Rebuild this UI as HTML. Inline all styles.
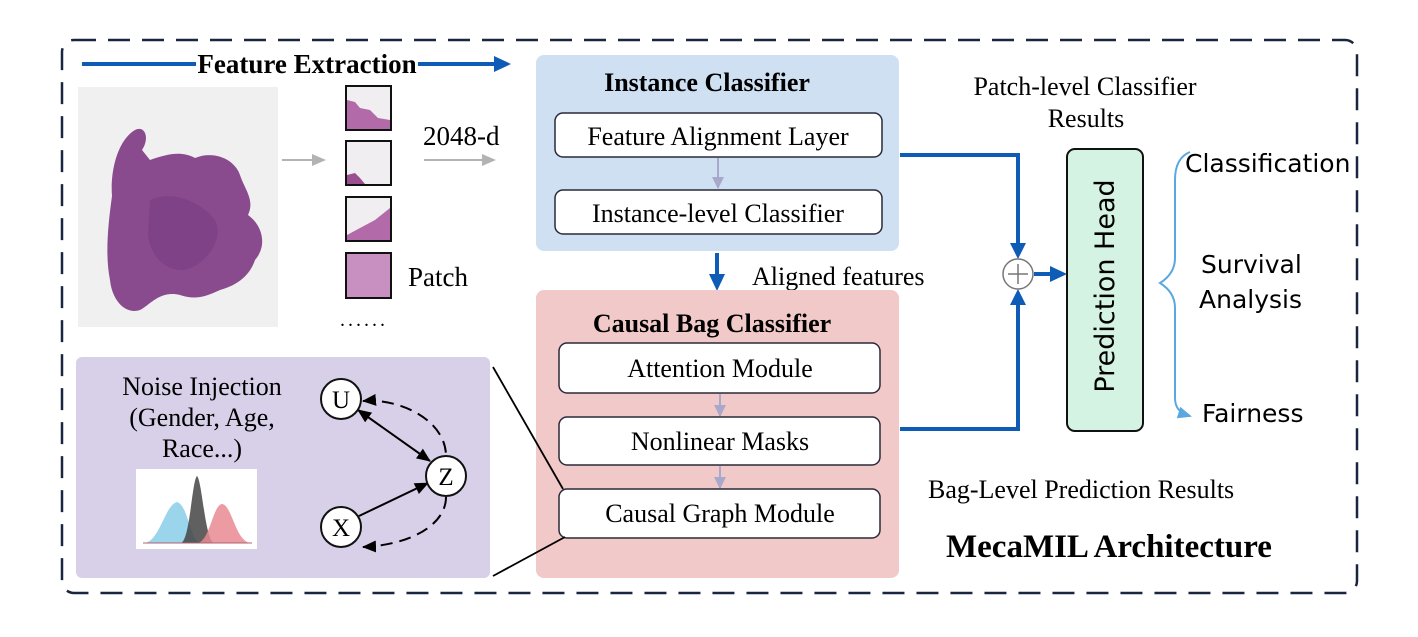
<!DOCTYPE html>
<html><head><meta charset="utf-8"><style>
html,body{margin:0;padding:0;background:#fff;}
svg{display:block;}
.s{font-family:"Liberation Serif",serif;}
.a{font-family:"DejaVu Sans","Liberation Sans",sans-serif;}
</style></head><body>
<svg width="1418" height="637" viewBox="0 0 1418 637" xmlns="http://www.w3.org/2000/svg">
<defs>
<marker id="gh" markerWidth="14" markerHeight="14" refX="12" refY="7" orient="auto" markerUnits="userSpaceOnUse"><path d="M0,1 L14,7 L0,13 z" fill="#b3b3b3"/></marker>
<marker id="ph" markerWidth="12" markerHeight="12" refX="11" refY="6" orient="auto" markerUnits="userSpaceOnUse"><path d="M0,0 L12,6 L0,12 z" fill="#a8a8cc"/></marker>
<marker id="kh" markerWidth="14" markerHeight="12" refX="13" refY="6" orient="auto" markerUnits="userSpaceOnUse"><path d="M0,0 L14,6 L0,12 z" fill="#000"/></marker>
<marker id="ks" markerWidth="14" markerHeight="12" refX="1" refY="6" orient="auto" markerUnits="userSpaceOnUse"><path d="M14,0 L0,6 L14,12 z" fill="#000"/></marker>
<marker id="lh" markerWidth="14" markerHeight="12" refX="12" refY="6" orient="auto" markerUnits="userSpaceOnUse"><path d="M0,0 L14,6 L0,12 z" fill="#5aa8e0"/></marker>
</defs>
<rect x="62" y="40" width="1295" height="553" rx="12" fill="none" stroke="#1a2540" stroke-width="2.5" stroke-dasharray="22,12"/>

<line x1="82" y1="64" x2="196" y2="64" stroke="#0e5cb5" stroke-width="4"/>
<line x1="418" y1="64" x2="496" y2="64" stroke="#0e5cb5" stroke-width="4"/>
<polygon points="494,56 511,64 494,72" fill="#0e5cb5"/>
<text x="307" y="73" class="s" font-size="27" font-weight="bold" text-anchor="middle">Feature Extraction</text>

<rect x="78" y="87" width="200" height="240" fill="#f0f0f1"/>
<path d="M112,196 C110,170 118,140 135,130 C145,125 150,138 142,150 L150,160 C165,155 180,150 195,158 C215,150 235,160 240,175 C245,190 255,200 248,215 C262,225 268,245 255,260 C250,275 238,285 220,290 C205,297 195,300 180,295 C160,290 150,305 140,310 C125,315 112,300 110,280 C105,255 108,225 112,196 Z" fill="#8a4a8e"/>
<path d="M150,200 C170,190 200,200 215,220 C225,240 205,265 185,270 C165,272 150,255 148,235 Z" fill="#7a3d80" opacity="0.6"/>

<line x1="282" y1="160" x2="324" y2="160" stroke="#b3b3b3" stroke-width="2" marker-end="url(#gh)"/>
<g stroke="#111" stroke-width="2">
<rect x="346" y="86" width="45" height="44" fill="#f1eef1"/>
<rect x="346" y="141" width="45" height="44" fill="#f1eef1"/>
<rect x="346" y="197" width="45" height="44" fill="#f1eef1"/>
<rect x="346" y="253" width="45" height="45" fill="#c890c0"/>
</g>
<path d="M347,100 L355,102 L360,108 L370,110 L378,118 L390,120 L390,129 L347,129Z" fill="#b26aa8"/>
<path d="M347,175 L355,173 L360,178 L365,184 L347,184Z" fill="#9a5090"/>
<path d="M347,235 L360,228 L375,220 L385,212 L390,208 L390,240 L347,240Z" fill="#b26aa8"/>
<text x="340" y="326" class="s" font-size="20" letter-spacing="3">......</text>
<text x="423" y="145" class="s" font-size="27">2048-d</text>
<line x1="424" y1="160" x2="494" y2="160" stroke="#b3b3b3" stroke-width="2" marker-end="url(#gh)"/>
<text x="408" y="286" class="s" font-size="27">Patch</text>

<rect x="536" y="55" width="363" height="196" rx="8" fill="#cfe0f2"/>
<text x="707" y="91" class="s" font-size="26" font-weight="bold" text-anchor="middle">Instance Classifier</text>
<rect x="555" y="113" width="327" height="44" rx="8" fill="#fff" stroke="#2a2a3a" stroke-width="1.5"/>
<text x="718" y="145" class="s" font-size="26" text-anchor="middle">Feature Alignment Layer</text>
<line x1="718" y1="158" x2="718" y2="188" stroke="#a8a8cc" stroke-width="2" marker-end="url(#ph)"/>
<rect x="555" y="190" width="327" height="44" rx="8" fill="#fff" stroke="#2a2a3a" stroke-width="1.5"/>
<text x="718" y="222" class="s" font-size="26" text-anchor="middle">Instance-level Classifier</text>

<line x1="717" y1="253" x2="717" y2="276" stroke="#0e5cb5" stroke-width="4"/>
<polygon points="709,274 725,274 717,291" fill="#0e5cb5"/>
<text x="752" y="285" class="s" font-size="26">Aligned features</text>

<rect x="536" y="290" width="363" height="288" rx="8" fill="#f2c9c9"/>
<text x="712" y="332" class="s" font-size="26" font-weight="bold" text-anchor="middle">Causal Bag Classifier</text>
<rect x="559" y="343" width="321" height="50" rx="8" fill="#fff" stroke="#2a2a3a" stroke-width="1.5"/>
<text x="720" y="377" class="s" font-size="26" text-anchor="middle">Attention Module</text>
<line x1="720" y1="394" x2="720" y2="416" stroke="#a8a8cc" stroke-width="2" marker-end="url(#ph)"/>
<rect x="559" y="417" width="321" height="48" rx="8" fill="#fff" stroke="#2a2a3a" stroke-width="1.5"/>
<text x="720" y="450" class="s" font-size="26" text-anchor="middle">Nonlinear Masks</text>
<line x1="720" y1="466" x2="720" y2="488" stroke="#a8a8cc" stroke-width="2" marker-end="url(#ph)"/>
<rect x="559" y="489" width="321" height="49" rx="8" fill="#fff" stroke="#2a2a3a" stroke-width="1.5"/>
<text x="720" y="522" class="s" font-size="26" text-anchor="middle">Causal Graph Module</text>

<polyline points="900,155 1018,155 1018,245" fill="none" stroke="#0e5cb5" stroke-width="4"/>
<polygon points="1010,243 1026,243 1018,259" fill="#0e5cb5"/>
<polyline points="900,429 1018,429 1018,303" fill="none" stroke="#0e5cb5" stroke-width="4"/>
<polygon points="1010,305 1026,305 1018,289" fill="#0e5cb5"/>
<circle cx="1018" cy="274" r="15" fill="#fff" stroke="#777" stroke-width="1.5"/>
<line x1="1008" y1="274" x2="1028" y2="274" stroke="#777" stroke-width="1.5"/>
<line x1="1018" y1="264" x2="1018" y2="284" stroke="#777" stroke-width="1.5"/>
<line x1="1034" y1="274" x2="1052" y2="274" stroke="#0e5cb5" stroke-width="4"/>
<polygon points="1050,266 1067,274 1050,282" fill="#0e5cb5"/>

<text x="1085" y="95" class="s" font-size="26" text-anchor="middle">Patch-level Classifier</text>
<text x="1086" y="127" class="s" font-size="26" text-anchor="middle">Results</text>

<rect x="1067" y="149" width="76" height="282" rx="8" fill="#d4f3e3" stroke="#111" stroke-width="2"/>
<text transform="translate(1114,286) rotate(-90)" class="a" font-size="27" text-anchor="middle">Prediction Head</text>

<path d="M1190,152 C1180,156 1175,165 1175,180 L1175,258 C1175,270 1168,278 1160,283 C1168,288 1175,296 1175,308 L1175,398 C1175,408 1180,413 1190,416" fill="none" stroke="#5aa8e0" stroke-width="2" marker-end="url(#lh)"/>
<text x="1185" y="172" class="a" font-size="25">Classification</text>
<text x="1201" y="273" class="a" font-size="25">Survival</text>
<text x="1199" y="308" class="a" font-size="25">Analysis</text>
<text x="1202" y="422" class="a" font-size="25">Fairness</text>

<text x="928" y="498" class="s" font-size="26">Bag-Level Prediction Results</text>
<text x="946" y="557" class="s" font-size="33" font-weight="bold">MecaMIL Architecture</text>

<rect x="76" y="357" width="414" height="221" rx="6" fill="#d7d0e8"/>
<text x="202" y="395" class="s" font-size="26" text-anchor="middle">Noise Injection</text>
<text x="202" y="426" class="s" font-size="26" text-anchor="middle">(Gender, Age,</text>
<text x="202" y="457" class="s" font-size="26" text-anchor="middle">Race...)</text>
<rect x="136" y="469" width="121" height="80" fill="#fff"/>
<path d="M145,543 C160,540 165,505 177,502 C188,505 190,540 200,543Z" fill="#8fd0ea" opacity="0.9"/>
<path d="M181,543 C190,540 192,480 197,476 C202,480 205,540 214,543Z" fill="#444" opacity="0.85"/>
<path d="M198,543 C210,540 213,505 222,504 C232,505 235,540 250,543Z" fill="#e88a90" opacity="0.85"/>
<line x1="143" y1="543" x2="252" y2="543" stroke="#b06070" stroke-width="1"/>

<line x1="358" y1="410" x2="430" y2="461" stroke="#000" stroke-width="2" marker-end="url(#kh)" marker-start="url(#ks)"/>
<line x1="359" y1="516" x2="428" y2="483" stroke="#000" stroke-width="2" marker-end="url(#kh)"/>
<path d="M363,401 C400,398 445,420 446,455" fill="none" stroke="#000" stroke-width="2" stroke-dasharray="12,7" marker-start="url(#ks)"/>
<path d="M446,497 C446,525 410,545 363,547" fill="none" stroke="#000" stroke-width="2" stroke-dasharray="12,7" marker-end="url(#kh)"/>
<g stroke="#111" stroke-width="2" fill="#fff">
<circle cx="341" cy="399" r="20"/>
<circle cx="446" cy="476" r="20"/>
<circle cx="341" cy="527" r="20"/>
</g>
<text x="341" y="408" class="s" font-size="25" text-anchor="middle">U</text>
<text x="446" y="485" class="s" font-size="25" text-anchor="middle">Z</text>
<text x="341" y="536" class="s" font-size="25" text-anchor="middle">X</text>

<line x1="493" y1="367" x2="563" y2="489" stroke="#000" stroke-width="1.8"/>
<line x1="493" y1="576" x2="565" y2="537" stroke="#000" stroke-width="1.8"/>
</svg>
</body></html>
